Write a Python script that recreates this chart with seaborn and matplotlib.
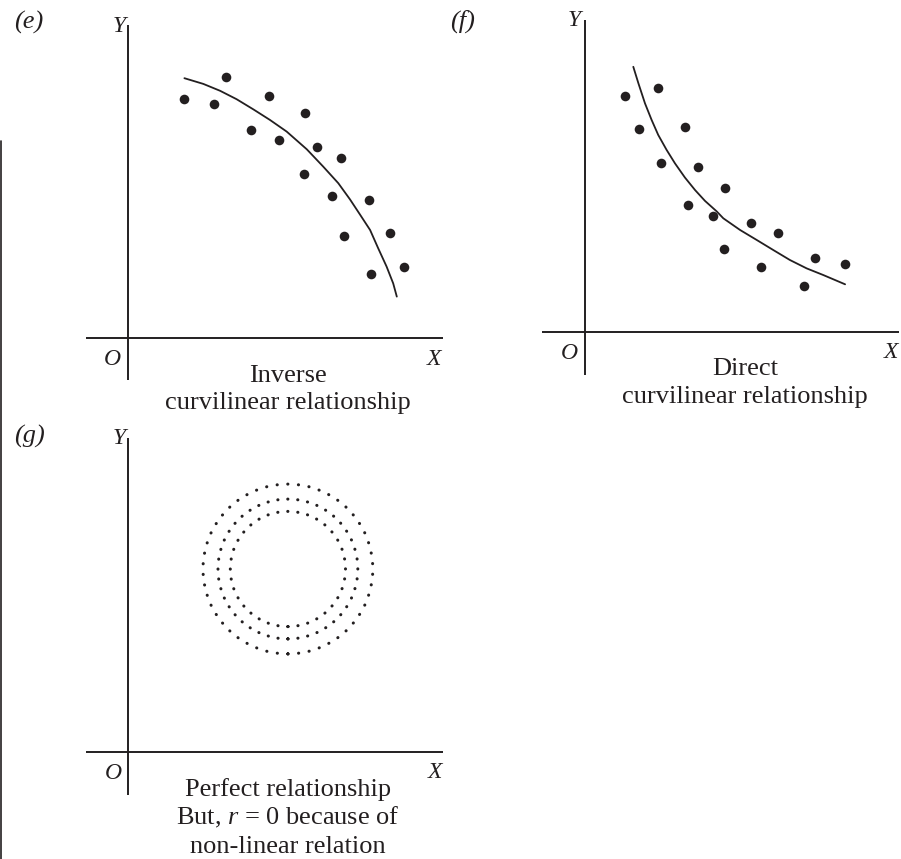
import numpy as np
import pandas as pd
import seaborn as sns
import matplotlib.pyplot as plt
from matplotlib.patches import Circle
from matplotlib.lines import Line2D

# ---- panel (e): inverse curvilinear relationship ----
e_x = [1.88, 2.88, 3.26, 4.10, 4.70, 5.03, 5.90, 6.29, 7.10, 5.88, 6.81, 8.03, 7.21, 8.73, 8.10, 9.21]
e_y = [7.97, 7.79, 8.71, 6.93, 8.08, 6.60, 7.50, 6.38, 6.01, 5.46, 4.74, 4.60, 3.41, 3.49, 2.12, 2.38]
e_curve_x = [1.88, 2.51, 3.07, 3.62, 4.18, 4.73, 5.29, 5.96, 6.51, 7.01, 7.40, 7.73, 8.07, 8.34,
             8.62, 8.84, 8.96]
e_curve_y = [8.66, 8.47, 8.24, 7.96, 7.62, 7.27, 6.88, 6.29, 5.71, 5.16, 4.62, 4.12, 3.60, 2.99,
             2.38, 1.82, 1.38]

# ---- panel (f): direct curvilinear relationship ----
f_x = [1.33, 2.44, 1.81, 3.33, 2.52, 3.76, 4.67, 3.44, 4.26, 5.52, 6.44, 4.63, 5.86, 7.67, 8.67, 7.30]
f_y = [7.87, 8.12, 6.76, 6.84, 5.64, 5.49, 4.79, 4.23, 3.86, 3.64, 3.31, 2.76, 2.16, 2.46, 2.27, 1.53]
f_curve_x = [1.61, 1.78, 2.00, 2.22, 2.44, 2.72, 3.00, 3.33, 3.67, 4.00, 4.39, 4.61, 5.17, 5.72,
             6.28, 6.83, 7.39, 7.94, 8.67]
f_curve_y = [8.84, 8.29, 7.62, 7.07, 6.57, 6.07, 5.62, 5.15, 4.73, 4.37, 4.02, 3.79, 3.40, 3.07,
             2.73, 2.40, 2.12, 1.90, 1.59]

# ---- panel (g): concentric rings of points ----
ring_center = (5.33, 6.10)
ring_radii = [2.83, 2.33, 1.92]
ring_dots = [50, 44, 36]

W, H = 901, 859          # canvas in pixels
U = 30.0                 # pixels per data unit
INK = "#231f20"

sns.set_theme(style="white")
plt.rcParams["font.family"] = ["Liberation Serif", "DejaVu Serif"]
plt.rcParams["mathtext.fontset"] = "custom"
plt.rcParams["mathtext.rm"] = "Liberation Serif"
plt.rcParams["mathtext.it"] = "Liberation Serif:italic"

fig = plt.figure(figsize=(W / 100, H / 100), dpi=100)
fig.patch.set_facecolor("white")


def make_panel(ox, oy, xmin, xmax, ymin, ymax):
    """Axes whose data origin sits at pixel (ox, oy), U pixels per unit."""
    left = (ox + xmin * U) / W
    bottom = (H - (oy - ymin * U)) / H
    ax = fig.add_axes([left, bottom, (xmax - xmin) * U / W, (ymax - ymin) * U / H])
    ax.axhline(0, color=INK, lw=1.4)
    ax.axvline(0, color=INK, lw=1.4)
    return ax, (xmin, xmax), (ymin, ymax)


def finish(ax, xl, yl):
    ax.set_xlim(*xl)
    ax.set_ylim(*yl)
    ax.axis("off")


def ptext(px, py, s, size=19, style="normal", ha="center"):
    fig.text(px / W, 1 - py / H, s, ha=ha, va="baseline", fontsize=size,
             fontstyle=style, color=INK)


def scatter_with_curve(ax, x, y, cx, cy):
    sns.scatterplot(x=x, y=y, ax=ax, s=48, color=INK, edgecolor=INK,
                    linewidth=0, legend=False)
    sns.lineplot(x=cx, y=cy, ax=ax, sort=False, estimator=None, color=INK,
                 lw=1.3, legend=False, solid_joinstyle="round")


# (e)
ax_e, xl, yl = make_panel(128, 338, -1.4, 10.5, -1.4, 10.43)
scatter_with_curve(ax_e, e_x, e_y, e_curve_x, e_curve_y)
finish(ax_e, xl, yl)
ptext(29, 29, "(e)", size=19, style="italic")
ptext(119, 32, "Y", size=17, style="italic")
ptext(112, 365, "O", size=17, style="italic")
ptext(434, 365, "X", size=17, style="italic")
ptext(288, 382, "Inverse")
ptext(288, 409, "curvilinear relationship")

# (f)
ax_f, xl, yl = make_panel(585, 332, -1.43, 10.47, -1.43, 10.4)
scatter_with_curve(ax_f, f_x, f_y, f_curve_x, f_curve_y)
finish(ax_f, xl, yl)
ptext(463, 28, "(f)", size=19, style="italic")
ptext(574, 26, "Y", size=17, style="italic")
ptext(569, 359, "O", size=17, style="italic")
ptext(891, 358, "X", size=17, style="italic")
ptext(745, 375, "Direct")
ptext(745, 403, "curvilinear relationship")

# (g): each ring is a dotted circle; the dash period is chosen so that
# the given number of dots closes evenly around the circumference
ax_g, xl, yl = make_panel(128, 752, -1.4, 10.5, -1.43, 10.47)
ring_lw = 2.2
pt_per_unit = U * 72 / 100
for r, n in zip(ring_radii, ring_dots):
    period = 2 * np.pi * r * pt_per_unit / n / ring_lw
    ring = Circle(ring_center, r, fill=False, edgecolor=INK, lw=ring_lw,
                  linestyle=(0, (0.05, period - 0.05)))
    ring.set_capstyle("round")
    ax_g.add_patch(ring)
finish(ax_g, xl, yl)
ptext(29, 443, "(g)", size=19, style="italic")
ptext(119, 444, "Y", size=17, style="italic")
ptext(113, 779, "O", size=17, style="italic")
ptext(435, 778, "X", size=17, style="italic")
ptext(288, 796, "Perfect relationship")
ptext(288, 824, "But, $r$ = 0 because of")
ptext(288, 853, "non-linear relation")

# page rule along the left edge
fig.add_artist(Line2D([1.2 / W, 1.2 / W], [0, 1 - 141 / H], transform=fig.transFigure,
                      color=INK, lw=1.2))

fig.savefig("out.png", dpi=100, facecolor="white")
